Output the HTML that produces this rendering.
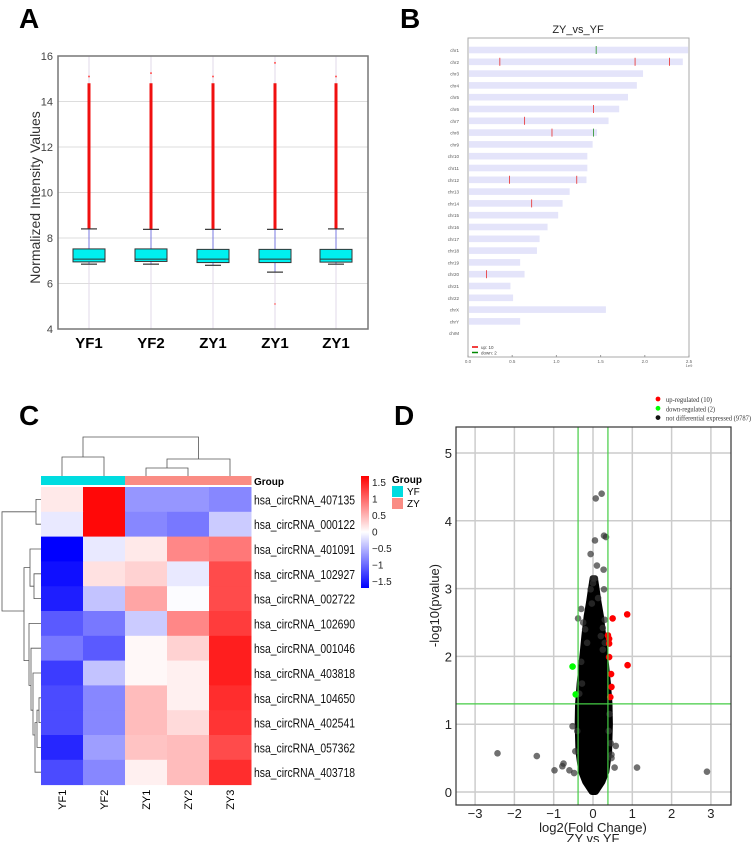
<!DOCTYPE html>
<html><head><meta charset="utf-8">
<style>
html,body{margin:0;padding:0;background:#fff;}
svg{display:block;font-family:"Liberation Sans",Arial,sans-serif;}
</style></head>
<body>
<svg id="fig" width="753" height="842" viewBox="0 0 753 842" xmlns="http://www.w3.org/2000/svg">
<text x="19" y="28" font-size="28" font-weight="bold">A</text>
<text x="400" y="28" font-size="28" font-weight="bold">B</text>
<text x="19" y="425" font-size="28" font-weight="bold">C</text>
<text x="394" y="425" font-size="28" font-weight="bold">D</text>
<g id="pa"></g>
<g id="pb"></g>
<g id="pc"></g>
<g id="pd"></g>
</svg>
<script>
// ---------- Panel A data ----------
const boxSamples = ["YF1","YF2","ZY1","ZY1","ZY1"];
const boxQ1 = [6.95,6.97,6.92,6.92,6.94];
const boxMedian = [7.07,7.07,7.07,7.07,7.07];
const boxQ3 = [7.52,7.52,7.5,7.5,7.5];
const boxWhiskLo = [6.85,6.85,6.8,6.5,6.85];
const boxWhiskHi = [8.4,8.38,8.38,8.38,8.4];
const boxOutDenseTop = [14.8,14.8,14.8,14.8,14.8];
const boxOutMax = [15.1,15.25,15.1,15.7,15.1];
const boxYTicks = [4,6,8,10,12,14,16];

// ---------- Panel B data ----------
const chrNames = ["chr1","chr2","chr3","chr4","chr5","chr6","chr7","chr8","chr9","chr10","chr11","chr12","chr13","chr14","chr15","chr16","chr17","chr18","chr19","chr20","chr21","chr22","chrX","chrY","chrM"];
const chrLen = [2.49,2.43,1.98,1.91,1.81,1.71,1.59,1.46,1.41,1.35,1.35,1.34,1.15,1.07,1.02,0.9,0.81,0.78,0.59,0.64,0.48,0.51,1.56,0.59,0];
const upChr = [1,1,1,5,6,7,11,11,13,19];
const upPos = [0.36,1.89,2.28,1.42,0.64,0.95,0.47,1.23,0.72,0.21];
const downChr = [0,7];
const downPos = [1.45,1.42];
const chrXTicks = ["0.0","0.5","1.0","1.5","2.0","2.5"];

// ---------- Panel C data ----------
const hmCols = ["YF1","YF2","ZY1","ZY2","ZY3"];
const hmGroups = ["YF","YF","ZY","ZY","ZY"];
const hmRows = ["hsa_circRNA_407135","hsa_circRNA_000122","hsa_circRNA_401091","hsa_circRNA_102927","hsa_circRNA_002722","hsa_circRNA_102690","hsa_circRNA_001046","hsa_circRNA_403818","hsa_circRNA_104650","hsa_circRNA_402541","hsa_circRNA_057362","hsa_circRNA_403718"];
const hmValues = [
 [0.15,1.65,-0.7,-0.7,-0.8],
 [-0.15,1.65,-0.8,-0.9,-0.35],
 [-1.7,-0.15,0.15,0.8,0.9],
 [-1.6,0.2,0.3,-0.15,1.2],
 [-1.5,-0.4,0.6,-0.02,1.2],
 [-1.1,-0.9,-0.35,0.8,1.3],
 [-0.9,-1.1,0.05,0.3,1.5],
 [-1.3,-0.4,0.05,0.1,1.5],
 [-1.2,-0.8,0.45,0.1,1.4],
 [-1.2,-0.8,0.45,0.25,1.35],
 [-1.45,-0.65,0.4,0.45,1.2],
 [-1.2,-0.8,0.1,0.45,1.4]
];
const hmLegendTicks = [-1.5,-1,-0.5,0,0.5,1,1.5];

// ---------- Panel D data ----------
const volXTicks = [-3,-2,-1,0,1,2,3];
const volYTicks = [0,1,2,3,4,5];
const cloudY = [0,0.15,0.3,0.6,1.0,1.3,1.6,2.0,2.3,2.6,2.8,3.0,3.15];
const cloudHalfW = [0.05,0.22,0.32,0.39,0.41,0.4,0.36,0.29,0.24,0.18,0.12,0.07,0.03];
const greyX = [-2.43,-1.43,-0.98,-0.75,-0.78,-0.6,-0.48,-0.52,1.12,2.9,0.55,0.47,0.47,0.58,0.22,0.07,0.28,0.33,0.05,-0.06,0.1,0.27,0.0,0.05,0.0,-0.06,0.28,0.13,-0.03,-0.3,-0.38,0.3,-0.25,-0.2,0.25,0.3,-0.3,-0.28,-0.35,0.42,0.45,-0.45,0.25,0.2,-0.15,-0.4,0.4];
const greyY = [0.57,0.53,0.32,0.42,0.38,0.32,0.28,0.97,0.36,0.3,0.36,0.5,0.55,0.68,4.4,4.33,3.78,3.76,3.71,3.51,3.34,3.28,3.15,3.15,3.08,2.99,2.99,2.86,2.78,2.7,2.56,2.54,2.5,2.4,2.42,2.2,1.92,1.6,1.45,1.15,0.72,0.6,2.1,2.3,2.2,0.9,0.9];
const upX = [0.5,0.87,0.38,0.41,0.41,0.41,0.88,0.46,0.47,0.44];
const upY = [2.56,2.62,2.31,2.26,2.19,1.99,1.87,1.74,1.55,1.4];
const downX = [-0.52,-0.44];
const downY = [1.85,1.44];

const NS="http://www.w3.org/2000/svg";
function mk(parent,tag,attrs,text){const e=document.createElementNS(NS,tag);for(const k in attrs)e.setAttribute(k,attrs[k]);if(text!==undefined)e.textContent=text;parent.appendChild(e);return e;}

// ===== Panel A =====
(function(){
 const g=document.getElementById('pa');
 const L=58,R=368,T=56,B=329;
 const y=v=>B-(v-4)/12*(B-T);
 const xc=[89,151,213,275,336];
 for(const t of boxYTicks){
  const gl=mk(g,'line',{x1:L,x2:R,y1:y(t),y2:y(t),stroke:'#ddd','stroke-width':1});
  
  const tl=mk(g,'text',{x:L-5,y:y(t)+4,'font-size':11,'text-anchor':'end',fill:'#444'},String(t));
  
 }
 for(const x of xc){mk(g,'line',{x1:x,x2:x,y1:T,y2:B,stroke:'#e2d8e8','stroke-width':1});}
 const frame=mk(g,'rect',{x:L,y:T,width:R-L,height:B-T,fill:'none',stroke:'#777','stroke-width':1.5});
 
 const yt=mk(g,'text',{x:0,y:0,'font-size':14,'text-anchor':'middle',fill:'#333',transform:`translate(40,${(T+B)/2+5}) rotate(-90)`},'Normalized Intensity Values');
 
 boxSamples.forEach((s,i)=>{
  const x=xc[i];
  const out=mk(g,'line',{x1:x,x2:x,y1:y(boxWhiskHi[i]),y2:y(boxOutDenseTop[i]),stroke:'#f01010','stroke-width':3});
  
  mk(g,'circle',{cx:x,cy:y(boxOutMax[i]),r:1,fill:'#f55'});
  mk(g,'line',{x1:x,x2:x,y1:y(boxQ3[i]),y2:y(boxWhiskHi[i]),stroke:'#7a7ae0','stroke-width':1});
  mk(g,'line',{x1:x,x2:x,y1:y(boxQ1[i]),y2:y(boxWhiskLo[i]),stroke:'#7a7ae0','stroke-width':1});
  mk(g,'line',{x1:x-8,x2:x+8,y1:y(boxWhiskHi[i]),y2:y(boxWhiskHi[i]),stroke:'#333','stroke-width':1.2});
  mk(g,'line',{x1:x-8,x2:x+8,y1:y(boxWhiskLo[i]),y2:y(boxWhiskLo[i]),stroke:'#333','stroke-width':1.2});
  const b=mk(g,'rect',{x:x-16,y:y(boxQ3[i]),width:32,height:y(boxQ1[i])-y(boxQ3[i]),fill:'#00f0f0',stroke:'#333','stroke-width':1});
  
  mk(g,'line',{x1:x-16,x2:x+16,y1:y(boxMedian[i]),y2:y(boxMedian[i]),stroke:'#333','stroke-width':1});
  const xl=mk(g,'text',{x:x,y:348,'font-size':15,'font-weight':'bold','text-anchor':'middle'},s);
  
 });
 mk(g,'circle',{cx:275,cy:y(5.1),r:0.8,fill:'#f55'});
})();

// ===== Panel B =====
(function(){
 const g=document.getElementById('pb');
 const L=468,R=689,T=38,B=357;
 const x=v=>L+v/2.5*(R-L);
 const rowY=i=>50+i*11.8;
 const tt=mk(g,'text',{x:578,y:33,'font-size':11,'text-anchor':'middle',fill:'#222'},'ZY_vs_YF');
 
 const fr=mk(g,'rect',{x:L,y:T,width:R-L,height:B-T,fill:'none',stroke:'#aaa','stroke-width':1});
 
 chrNames.forEach((c,i)=>{
  if(chrLen[i]>0){const r=mk(g,'rect',{x:L+1,y:rowY(i)-3.3,width:x(chrLen[i])-L-1,height:6.6,fill:'#e4e4fa'});
  }
  const t=mk(g,'text',{x:L-9,y:rowY(i)+2,'font-size':4.5,'text-anchor':'end',fill:'#555'},c);
  
 });
 upChr.forEach((c,i)=>{const m=mk(g,'line',{x1:x(upPos[i]),x2:x(upPos[i]),y1:rowY(c)-4,y2:rowY(c)+4,stroke:'#e84040','stroke-width':0.9});
  });
 downChr.forEach((c,i)=>{const m=mk(g,'line',{x1:x(downPos[i]),x2:x(downPos[i]),y1:rowY(c)-4,y2:rowY(c)+4,stroke:'#3a9a3a','stroke-width':0.9});
  });
 chrXTicks.forEach((t,i)=>{const xv=x(i*0.5);mk(g,'line',{x1:xv,x2:xv,y1:B,y2:B-2,stroke:'#999'});
  const l=mk(g,'text',{x:xv,y:B+6,'font-size':4.5,'text-anchor':'middle',fill:'#666'},t);
  });
 mk(g,'text',{x:R,y:B+10,'font-size':4,'text-anchor':'middle',fill:'#666'},'1e9');
 mk(g,'line',{x1:472,x2:478,y1:347,y2:347,stroke:'#e00','stroke-width':1.5});
 mk(g,'line',{x1:472,x2:478,y1:352.5,y2:352.5,stroke:'#080','stroke-width':1.5});
 const l1=mk(g,'text',{x:481,y:349,'font-size':4.5,fill:'#444'},'up: 10');
 const l2=mk(g,'text',{x:481,y:354.5,'font-size':4.5,fill:'#444'},'down: 2');
})();

// ===== Panel C =====
(function(){
 const g=document.getElementById('pc');
 const L=41,cw=42,T=487,rh=24.8;
 const col=v=>{let t=Math.max(-1,Math.min(1,v/1.7));
  if(t>=0){const k=Math.round(255*(1-t));return `rgb(255,${k},${k})`;}
  const k=Math.round(255*(1+t));return `rgb(${k},${k},255)`;};
 hmGroups.forEach((gr,j)=>{const r=mk(g,'rect',{x:L+j*cw,y:476,width:cw+0.5,height:9,fill:gr==='YF'?'#00dce0':'#fa8c84'});
  });
 const gt=mk(g,'text',{x:254,y:485,'font-size':10,'font-weight':'bold'},'Group');
 hmRows.forEach((rn,i)=>{
  hmValues[i].forEach((v,j)=>{const c=mk(g,'rect',{x:L+j*cw,y:T+i*rh,width:cw+0.5,height:rh+0.5,fill:col(v)});
   });
  const t=mk(g,'text',{x:254,y:T+i*rh+rh/2+5,'font-size':13,fill:'#111',textLength:101,lengthAdjust:'spacingAndGlyphs'},rn);
  
 });
 hmCols.forEach((c,j)=>{const cx=L+j*cw+cw/2;const t=mk(g,'text',{x:0,y:0,'font-size':11,'text-anchor':'end',transform:`translate(${cx+4},${T+12*rh+5}) rotate(-90)`},c);
  });
 const cx=j=>L+j*cw+cw/2;
 const dc="#555";
 const path=(d,n)=>{const p=mk(g,'path',{d:d,fill:'none',stroke:dc,'stroke-width':0.8});};
 path(`M${cx(0)} 476V457H${cx(1)}V476`,'column-dendrogram');
 path(`M${cx(2)} 476V468H${cx(3)}V476`,'column-dendrogram');
 path(`M${(cx(2)+cx(3))/2} 468V459H${cx(4)}V476`,'column-dendrogram');
 path(`M${(cx(0)+cx(1))/2} 457V437H${((cx(2)+cx(3))/2+cx(4))/2}V459`,'column-dendrogram');
 const ry=i=>T+i*rh+rh/2;
 path(`M41 ${ry(0)}H36V${ry(1)}H41`,'row-dendrogram');
 path(`M41 ${ry(3)}H34V${ry(4)}H41`,'row-dendrogram');
 path(`M41 ${ry(2)}H30V${(ry(3)+ry(4))/2}H34`,'row-dendrogram');
 path(`M41 ${ry(8)}H39V${ry(9)}H41`,'row-dendrogram');
 path(`M39 ${(ry(8)+ry(9))/2}H37V${ry(10)}H41`,'row-dendrogram');
 path(`M37 ${(ry(8)+ry(10))/2}H35V${ry(11)}H41`,'row-dendrogram');
 path(`M41 ${ry(7)}H33V${(ry(8)+ry(11))/2}H35`,'row-dendrogram');
 path(`M41 ${ry(6)}H31V${(ry(7)+ry(10))/2}H33`,'row-dendrogram');
 path(`M41 ${ry(5)}H29V${(ry(6)+ry(9))/2}H31`,'row-dendrogram');
 path(`M30 ${(ry(2)+ry(3.5))/2}H24V${(ry(5)+ry(8))/2}H29`,'row-dendrogram');
 path(`M36 ${(ry(0)+ry(1))/2}H2V${(ry(3)+ry(6))/2}H24`,'row-dendrogram');
 const grad=mk(g,'defs',{});const lg=mk(grad,'linearGradient',{id:'hmg',x1:0,y1:1,x2:0,y2:0});
 mk(lg,'stop',{offset:'0','stop-color':'#0000ff'});mk(lg,'stop',{offset:'0.5','stop-color':'#ffffff'});mk(lg,'stop',{offset:'1','stop-color':'#ff0000'});
 const cb=mk(g,'rect',{x:361,y:476,width:8,height:112,fill:'url(#hmg)'});
 hmLegendTicks.forEach(t=>{const yy=532-t/1.7*56;const l=mk(g,'text',{x:372,y:yy+3.5,'font-size':10,fill:'#222'},(t<0?'\u2212':'')+Math.abs(t));
  });
 const lt=mk(g,'text',{x:392,y:483,'font-size':10,'font-weight':'bold'},'Group');
 mk(g,'rect',{x:392,y:486,width:11,height:11,fill:'#00dce0'});mk(g,'rect',{x:392,y:498,width:11,height:11,fill:'#fa8c84'});
 const a=mk(g,'text',{x:407,y:495,'font-size':10},'YF');
 const b=mk(g,'text',{x:407,y:507,'font-size':10},'ZY');
})();

// ===== Panel D =====
(function(){
 const g=document.getElementById('pd');
 const L=456,R=731,T=427,B=805;
 const x=v=>593+v*39.3;
 const y=v=>792-v*67.8;
 for(const t of volXTicks){mk(g,'line',{x1:x(t),x2:x(t),y1:T,y2:B,stroke:'#ccc','stroke-width':1.5});
  const l=mk(g,'text',{x:x(t),y:818,'font-size':13,'text-anchor':'middle',fill:'#222'},(t<0?'\u2212':'')+Math.abs(t));
  }
 for(const t of volYTicks){mk(g,'line',{x1:L,x2:R,y1:y(t),y2:y(t),stroke:'#ccc','stroke-width':1.5});
  const l=mk(g,'text',{x:L-4,y:y(t)+5,'font-size':13,'text-anchor':'end',fill:'#222'},String(t));
  }
 let d='M'+x(cloudHalfW[0]+0.02)+' '+y(cloudY[0]);
 cloudY.forEach((v,i)=>{d+=' L'+x(0.02+cloudHalfW[i])+' '+y(v);});
 for(let i=cloudY.length-1;i>=0;i--){d+=' L'+x(0.02-cloudHalfW[i])+' '+y(cloudY[i]);}
 const cl=mk(g,'path',{d:d+'Z',fill:'#000',stroke:'#000','stroke-width':6,'stroke-linejoin':'round'});
 
 greyX.forEach((v,i)=>{const c=mk(g,'circle',{cx:x(v),cy:y(greyY[i]),r:3.3,fill:'#333','fill-opacity':0.7});
  });
 upX.forEach((v,i)=>{const c=mk(g,'circle',{cx:x(v),cy:y(upY[i]),r:3.3,fill:'#f00'});
  });
 downX.forEach((v,i)=>{const c=mk(g,'circle',{cx:x(v),cy:y(downY[i]),r:3.3,fill:'#0f0'});
  });
 const th=[[-0.38,'fc-threshold-left'],[0.38,'fc-threshold-right']];
 th.forEach(([v,n])=>{const l=mk(g,'line',{x1:x(v),x2:x(v),y1:T,y2:B,stroke:'#4c4','stroke-width':1.2});});
 const hl=mk(g,'line',{x1:L,x2:R,y1:y(1.3),y2:y(1.3),stroke:'#4c4','stroke-width':1.2});
 const fr=mk(g,'rect',{x:L,y:T,width:R-L,height:B-T,fill:'none',stroke:'#333','stroke-width':1.2});
 
 const xt=mk(g,'text',{x:593,y:832,'font-size':13,'text-anchor':'middle',fill:'#222'},'log2(Fold Change)');
 const xs=mk(g,'text',{x:593,y:843,'font-size':13,'text-anchor':'middle',fill:'#222'},'ZY vs YF');
 const yt=mk(g,'text',{x:0,y:0,'font-size':13,'text-anchor':'middle',fill:'#222',transform:`translate(439,${y(2.75)}) rotate(-90)`},'-log10(pvalue)');
 const leg=[['#f00','up-regulated (10)',46],['#0f0','down-regulated (2)',49],['#111','not differential expressed (9787)',85]];
 leg.forEach(([c,t,w],i)=>{mk(g,'circle',{cx:658,cy:399+i*9.3,r:2.4,fill:c});
  const l=mk(g,'text',{x:666,y:402+i*9.3,'font-size':7,'font-family':'Liberation Serif,serif',fill:'#333',textLength:w,lengthAdjust:'spacingAndGlyphs'},t);
  });
})();
</script>
</body></html>
